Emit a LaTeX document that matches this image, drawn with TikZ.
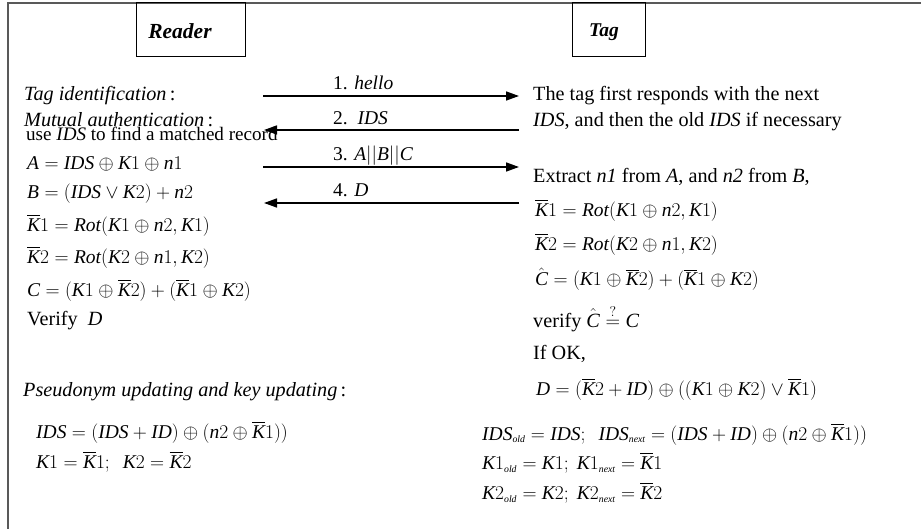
\RequirePackage{fix-cm}
\documentclass[tikz,border=0pt]{standalone}
\usepackage{amsmath}
\usepackage{fontspec}
\setmainfont{Liberation Serif}
\DeclareSymbolFont{operators}{TU}{\rmdefault}{m}{n}
\usetikzlibrary{arrows.meta}
\newcommand{\mi}[1]{\mathit{#1}}
\newcommand{\Kb}{\overline{\mathit{K}}}
\newcommand{\sbs}[1]{_{\scriptscriptstyle\mathit{#1}}}
\tikzset{
  txt/.style={anchor=west, inner sep=0pt, font=\fontsize{19.5}{23}\selectfont},
  ptxt/.style={anchor=west, inner sep=0pt, font=\fontsize{20.2}{24}\selectfont},
  lbl/.style={anchor=base west, inner sep=0pt, font=\fontsize{19.5}{23}\selectfont},
  msg/.style={line width=1.5pt, -{Triangle[length=13pt,width=9pt]}},
  frame/.style={line width=2pt, draw=black!65},
  partybox/.style={line width=1pt}
}
\begin{document}
\begin{tikzpicture}[x=1pt,y=-1pt]
\useasboundingbox (0,0) rectangle (921,529);
\fill[white] (0,0) rectangle (921,529);
% frame
\draw[frame] (8,529) -- (8,3) -- (921,3);
% parties
\draw[partybox] (136,3) rectangle (245,57);
\draw[partybox] (572,3) rectangle (645,57);
\node[inner sep=0pt, font=\fontsize{21.5}{25}\selectfont\bfseries\itshape] (reader) at (180,31) {Reader};
\node[inner sep=0pt, font=\fontsize{19.5}{23}\selectfont\bfseries\itshape] (tag) at (604,32) {Tag};
% left column
\node[ptxt] (tagid) at (24,96) {\textit{Tag identification}\,:};
\node[ptxt] (mutual) at (24,120) {\textit{Mutual authentication}\,:};
\node[txt, font=\fontsize{19.1}{23}\selectfont] (use) at (26,134) {use \textit{IDS} to find a matched record};
\node[txt] (A) at (27,164) {$\mi{A} = \mi{IDS}\oplus \mi{K}1\oplus \mi{n}1$};
\node[txt] (B) at (27,194) {$\mi{B} = (\mi{IDS}\vee \mi{K}2) + \mi{n}2$};
\node[txt] (K1l) at (27,225) {$\Kb 1 = \mi{Rot}(\mi{K}1\oplus \mi{n}2, \mi{K}1)$};
\node[txt] (K2l) at (27,257) {$\Kb 2 = \mi{Rot}(\mi{K}2\oplus \mi{n}1, \mi{K}2)$};
\node[txt] (Cl) at (27,290) {$\mi{C} = (\mi{K}1\oplus \Kb 2) + (\Kb 1\oplus \mi{K}2)$};
\node[ptxt] (verD) at (27,321) {Verify\ \ $\mi{D}$};
\node[ptxt] (pseudo) at (23,392) {\textit{Pseudonym updating and key updating}\,:};
\node[txt] (IDSu) at (36,432) {$\mi{IDS} = (\mi{IDS} + \mi{ID})\oplus (\mi{n}2\oplus \Kb 1))$};
\node[txt] (K1u) at (36,462) {$\mi{K}1 = \Kb 1;\ \ \mi{K}2 = \Kb 2$};
% right column
\node[ptxt] (resp1) at (533,96) {The tag first responds with the next};
\node[ptxt] (resp2) at (533,122) {\textit{IDS}, and then the old \textit{IDS} if necessary};
\node[ptxt] (extract) at (533,177) {Extract \textit{n1} from \textit{A}, and \textit{n2} from \textit{B},};
\node[txt] (K1r) at (535,210) {$\Kb 1 = \mi{Rot}(\mi{K}1\oplus \mi{n}2, \mi{K}1)$};
\node[txt] (K2r) at (535,244) {$\Kb 2 = \mi{Rot}(\mi{K}2\oplus \mi{n}1, \mi{K}2)$};
\node[txt] (Chat) at (535,279) {$\hat{\mi{C}} = (\mi{K}1\oplus \Kb 2) + (\Kb 1\oplus \mi{K}2)$};
\node[ptxt] (verC) at (533,318) {verify $\hat{\mi{C}}\stackrel{?}{=}\mi{C}$};
\node[ptxt] (ifok) at (533,354) {If OK,};
\node[txt] (Dr) at (536,389) {$\mi{D} = (\Kb 2 + \mi{ID})\oplus ((\mi{K}1\oplus \mi{K}2)\vee \Kb 1)$};
\node[txt] (IDSold) at (482,434) {$\mi{IDS}\sbs{old} = \mi{IDS};\ \ \mi{IDS}\sbs{next} = (\mi{IDS} + \mi{ID})\oplus (\mi{n}2\oplus \Kb 1))$};
\node[txt] (K1old) at (482,463) {$\mi{K}1\sbs{old} = \mi{K}1;\ \mi{K}1\sbs{next} = \Kb 1$};
\node[txt] (K2old) at (482,493) {$\mi{K}2\sbs{old} = \mi{K}2;\ \mi{K}2\sbs{next} = \Kb 2$};
% messages
\coordinate (r1) at (263,96); \coordinate (t1) at (519,96);
\coordinate (r2) at (264,130); \coordinate (t2) at (519,130);
\coordinate (r3) at (263,167); \coordinate (t3) at (519,167);
\coordinate (r4) at (264,203); \coordinate (t4) at (519,203);
\draw[msg] (r1) -- (t1);
\draw[msg] (t2) -- (r2);
\draw[msg] (r3) -- (t3);
\draw[msg] (t4) -- (r4);
\node[lbl] (m1) at (333,90) {1. \textit{hello}};
\node[lbl] (m2) at (333,125) {2.\ \ \textit{IDS}};
\node[lbl] (m3) at (333,161) {3. $\mi{A}||\mi{B}||\mi{C}$};
\node[lbl] (m4) at (333,197) {4. \textit{D}};
\end{tikzpicture}
\end{document}
